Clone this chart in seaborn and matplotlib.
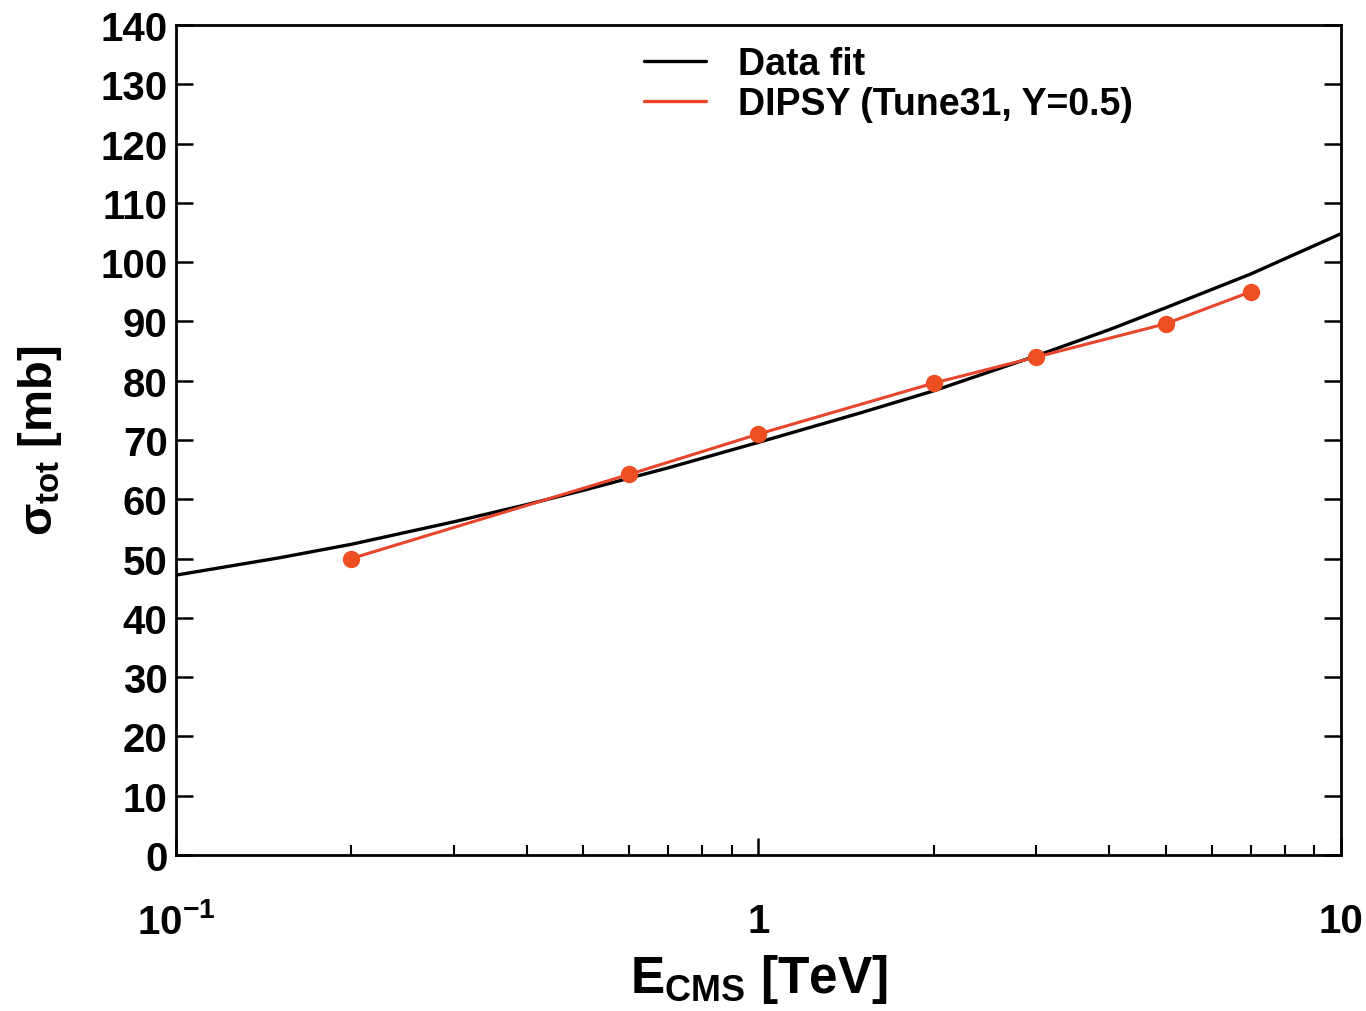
import numpy as np
import pandas as pd
import matplotlib
matplotlib.use("Agg")
import matplotlib.pyplot as plt
import seaborn as sns
from matplotlib.ticker import FixedLocator, FixedFormatter, LogLocator, NullFormatter

# ---- data ----
fit_energy = [0.1, 0.15, 0.2, 0.3, 0.4, 0.5, 0.7, 1.0, 1.5, 2.0, 3.0, 4.0, 5.0, 7.0, 10.0]
fit_sigma = [47.2, 50.1, 52.4, 56.2, 59.1, 61.5, 65.3, 69.6, 74.6, 78.3, 84.2, 88.6, 92.3, 98.0, 104.8]

dipsy_energy = [0.2, 0.6, 1.0, 2.0, 3.0, 5.0, 7.0]
dipsy_sigma = [50.0, 64.2, 71.0, 79.6, 84.0, 89.6, 95.0]

fit_label = "Data fit"
dipsy_label = "DIPSY (Tune31, Y=0.5)"

y_ticks = list(range(0, 141, 10))
x_ticks = [0.1, 1, 10]
x_tick_labels = [r"$\mathbf{10^{-1}}$", "1", "10"]

sns.set_theme(style="ticks")
plt.rcParams["font.family"] = ["Liberation Sans", "DejaVu Sans"]
plt.rcParams["font.weight"] = "bold"
plt.rcParams["text.color"] = "black"
plt.rcParams["axes.labelcolor"] = "black"
plt.rcParams["xtick.color"] = "black"
plt.rcParams["ytick.color"] = "black"
plt.rcParams["mathtext.fontset"] = "custom"
plt.rcParams["mathtext.rm"] = "Liberation Sans:bold"
plt.rcParams["mathtext.bf"] = "Liberation Sans:bold"
plt.rcParams["mathtext.it"] = "Liberation Sans:bold"
plt.rcParams["mathtext.sf"] = "Liberation Sans:bold"

fit_df = pd.DataFrame({"E": fit_energy, "sigma": fit_sigma})
dip_df = pd.DataFrame({"E": dipsy_energy, "sigma": dipsy_sigma})

fig = plt.figure(figsize=(13.66, 10.12), dpi=100)
ax = fig.add_axes([0.1288, 0.1542, 0.8529, 0.8201])

sns.lineplot(data=fit_df, x="E", y="sigma", ax=ax, color="black", linewidth=2.4,
             label=fit_label)
sns.lineplot(data=dip_df, x="E", y="sigma", ax=ax, color="#e8452a", linewidth=2.2,
             marker="o", markersize=12.5, markeredgewidth=0, markerfacecolor="#ee4f22",
             label=dipsy_label)

ax.set_xscale("log")
ax.set_xlim(0.1, 10)
ax.set_ylim(0, 140)
ax.xaxis.set_major_locator(FixedLocator(x_ticks))
ax.xaxis.set_major_formatter(FixedFormatter(x_tick_labels))
ax.xaxis.set_minor_locator(LogLocator(base=10, subs=np.arange(2, 10)))
ax.xaxis.set_minor_formatter(NullFormatter())
ax.set_yticks(y_ticks)
ax.set_yticklabels([str(v) for v in y_ticks])

for s in ax.spines.values():
    s.set_linewidth(2.0)
    s.set_color("black")

ax.tick_params(axis="y", which="major", direction="in", length=12, width=1.8,
               left=True, right=True, labelsize=29, pad=6)
ax.tick_params(axis="x", which="major", direction="in", length=12, width=1.8,
               bottom=True, top=False, labelsize=29, pad=34)
ax.tick_params(axis="x", which="minor", direction="in", length=7, width=1.5,
               bottom=True, top=False)
for lab in ax.get_xticklabels() + ax.get_yticklabels():
    lab.set_fontweight("bold")

ax.set_xlabel(r"E$_{\mathrm{CMS}}$ [TeV]", fontsize=37, fontweight="bold", labelpad=8)
ax.set_ylabel(r"$\sigma_{\mathrm{tot}}$ [mb]", fontsize=34, fontweight="bold", labelpad=26)

leg = ax.legend(loc="upper left", bbox_to_anchor=(0.386, 0.997), frameon=False,
                fontsize=27, handlelength=1.65, handletextpad=0.85, labelspacing=0.1,
                borderpad=0)
for t in leg.get_texts():
    t.set_fontweight("bold")
for h in leg.get_lines():
    h.set_marker("")
    h.set_linewidth(2.4)

fig.savefig("out.png", dpi=100, facecolor="white")
